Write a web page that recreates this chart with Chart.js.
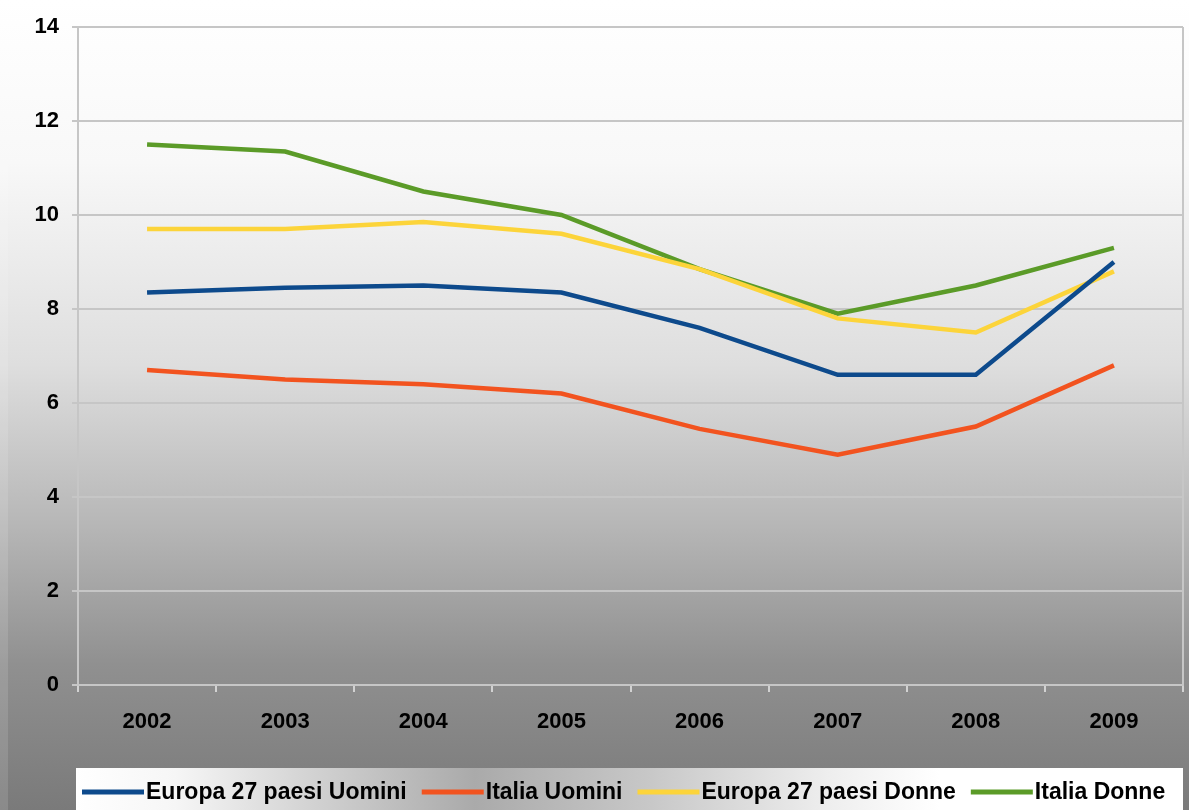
<!DOCTYPE html>
<html>
<head>
<meta charset="utf-8">
<script src="https://cdn.jsdelivr.net/npm/chart.js@4.4.1/dist/chart.umd.min.js"></script>
<style>
  html, body { margin: 0; padding: 0; background: #ffffff; }
  #wrap { width: 1189px; height: 810px; position: relative; }
  canvas { display: block; }
</style>
</head>
<body>
<div id="wrap"><canvas id="chart" width="1189" height="810"></canvas></div>
<script>
// Anni
const years = ['2002', '2003', '2004', '2005', '2006', '2007', '2008', '2009'];

// Serie
const europaUomini = [8.35, 8.45, 8.5, 8.35, 7.6, 6.6, 6.6, 9.0];
const italiaUomini = [6.7, 6.5, 6.4, 6.2, 5.45, 4.9, 5.5, 6.8];
const europaDonne  = [9.7, 9.7, 9.85, 9.6, 8.85, 7.8, 7.5, 8.8];
const italiaDonne  = [11.5, 11.35, 10.5, 10.0, 8.85, 7.9, 8.5, 9.3];

const seriesLabels = ['Europa 27 paesi Uomini', 'Italia Uomini', 'Europa 27 paesi Donne', 'Italia Donne'];
const seriesColors = ['#0d4a8c', '#f2531f', '#fcd43a', '#5b9b28'];

// Asse Y
const yMin = 0, yMax = 14, yStep = 2;

const FONT = '"Liberation Sans", Arial, sans-serif';
const GRID = '#c6c6c6';

// Sfondo sfumato dell'intera area
const backgroundPlugin = {
  id: 'sfondo',
  beforeDraw(chart) {
    const ctx = chart.ctx;
    const w = chart.width, h = chart.height;
    const g = ctx.createLinearGradient(0, 0, 0, h);
    g.addColorStop(0.0, '#ffffff');
    g.addColorStop(0.2, '#f8f8f8');
    g.addColorStop(0.45, '#dedede');
    g.addColorStop(0.65, '#b6b6b6');
    g.addColorStop(0.82, '#909090');
    g.addColorStop(1.0, '#7a7a7a');
    ctx.save();
    ctx.fillStyle = g;
    ctx.fillRect(0, 0, w, h);
    ctx.fillStyle = 'rgba(255,255,255,0.12)';
    ctx.fillRect(0, 0, 8, h);
    ctx.restore();
  }
};

// Bordo destro dell'area del grafico
const framePlugin = {
  id: 'cornice',
  beforeDatasetsDraw(chart) {
    const { ctx, chartArea } = chart;
    ctx.save();
    ctx.strokeStyle = GRID;
    ctx.lineWidth = 2;
    ctx.beginPath();
    ctx.moveTo(chartArea.right, chartArea.top);
    ctx.lineTo(chartArea.right, chartArea.bottom);
    ctx.stroke();
    ctx.restore();
  }
};

// Legenda in basso, riquadro chiaro con linee campione
const legendPlugin = {
  id: 'legendaBasso',
  afterDraw(chart) {
    const ctx = chart.ctx;
    const boxL = 76, boxT = 768, boxR = 1183, boxB = chart.height;
    ctx.save();
    const g = ctx.createLinearGradient(boxL, 0, boxR, 0);
    g.addColorStop(0.0, '#ffffff');
    g.addColorStop(0.09, '#f6f6f6');
    g.addColorStop(0.2, '#d6d6d6');
    g.addColorStop(0.36, '#aaaaaa');
    g.addColorStop(0.52, '#c8c8c8');
    g.addColorStop(0.68, '#eeeeee');
    g.addColorStop(0.78, '#ffffff');
    g.addColorStop(1.0, '#ffffff');
    ctx.fillStyle = g;
    ctx.fillRect(boxL, boxT, boxR - boxL, boxB - boxT);

    ctx.font = 'bold 23px ' + FONT;
    ctx.textBaseline = 'middle';
    ctx.textAlign = 'left';
    const cy = 792;
    let x = 82;
    chart.data.datasets.forEach(ds => {
      ctx.strokeStyle = ds.borderColor;
      ctx.lineWidth = 5;
      ctx.beginPath();
      ctx.moveTo(x, cy);
      ctx.lineTo(x + 62, cy);
      ctx.stroke();
      x += 64;
      ctx.fillStyle = '#000000';
      ctx.fillText(ds.label, x, cy + 1);
      x += ctx.measureText(ds.label).width + 15;
    });
    ctx.restore();
  }
};

const seriesData = [europaUomini, italiaUomini, europaDonne, italiaDonne];

new Chart(document.getElementById('chart'), {
  type: 'line',
  data: {
    labels: years,
    datasets: seriesData.map((values, i) => ({
      label: seriesLabels[i],
      data: values,
      borderColor: seriesColors[i],
      backgroundColor: seriesColors[i],
      borderWidth: 4.5,
      pointRadius: 0,
      tension: 0,
      fill: false
    }))
  },
  options: {
    responsive: false,
    animation: false,
    layout: { padding: { top: 27, right: 6, left: 0, bottom: 0 } },
    plugins: {
      legend: { display: false },
      tooltip: { enabled: false }
    },
    scales: {
      x: {
        offset: true,
        grid: {
          offset: true,
          drawOnChartArea: false,
          drawTicks: true,
          tickLength: 7,
          color: '#d2d2d2',
          lineWidth: 2
        },
        border: { display: true, color: GRID, width: 2 },
        ticks: {
          color: '#000000',
          font: { family: FONT, size: 22, weight: 'bold' },
          padding: 17,
          maxRotation: 0
        },
        afterFit(scale) { scale.height = 125; }
      },
      y: {
        min: yMin,
        max: yMax,
        grid: {
          color: GRID,
          lineWidth: 2,
          tickLength: 6
        },
        border: { display: true, color: GRID, width: 2 },
        ticks: {
          stepSize: yStep,
          color: '#000000',
          font: { family: FONT, size: 22, weight: 'bold' },
          padding: 13
        },
        afterFit(scale) { scale.width = 78; }
      }
    }
  },
  plugins: [backgroundPlugin, framePlugin, legendPlugin]
});
</script>
</body>
</html>
